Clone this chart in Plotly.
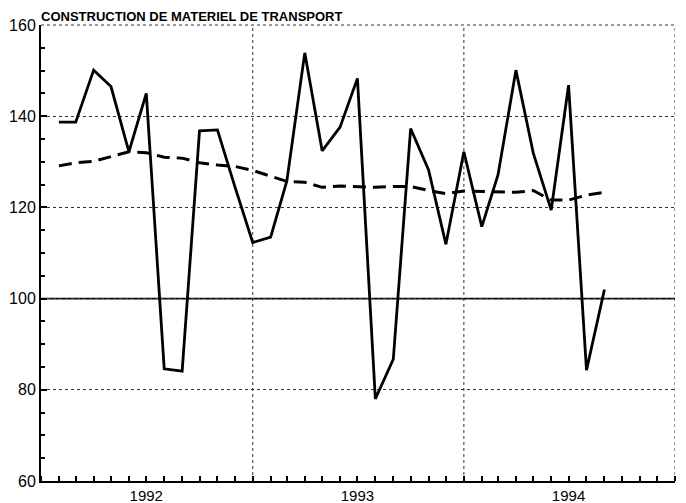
import pandas as pd
import plotly.graph_objects as go

# Monthly periods (Jan 1992 .. Aug 1994); each value is plotted at the end of its month
months = pd.period_range("1992-01", "1994-08", freq="M").astype(str).tolist()

production = [138.7, 138.7, 150.1, 146.5, 132.2, 145.0, 84.6, 84.1, 136.8, 137.0,
              124.6, 112.3, 113.5, 125.8, 153.9, 132.4, 137.6, 148.3, 78.0, 86.7,
              137.3, 128.2, 111.9, 132.2, 115.8, 127.1, 150.1, 131.9, 119.4, 146.8,
              84.3, 102.0]

trend = [129.1, 129.8, 130.1, 131.1, 132.2, 132.0, 131.0, 130.8, 129.8, 129.3,
         129.0, 128.1, 126.8, 125.7, 125.5, 124.4, 124.7, 124.6, 124.4, 124.6,
         124.6, 123.7, 123.0, 123.6, 123.5, 123.5, 123.3, 123.7, 121.6, 121.6,
         122.7, 123.3]

year_labels = ["1992", "1993", "1994"]
year_label_pos = ["1992-07-01", "1993-07-01", "1994-07-01"]
year_bounds = ["1993-01-01", "1994-01-01", "1995-01-01"]
y_ticks = [60, 80, 100, 120, 140, 160]
title_text = "CONSTRUCTION DE MATERIEL DE TRANSPORT"

x_dates = (pd.PeriodIndex(months, freq="M").to_timestamp() + pd.offsets.MonthBegin(1))

fig = go.Figure()
fig.add_trace(go.Scatter(x=x_dates, y=trend, mode="lines",
                         line=dict(color="black", width=3, dash="13px,7px"),
                         showlegend=False, hoverinfo="skip"))
fig.add_trace(go.Scatter(x=x_dates, y=production, mode="lines",
                         line=dict(color="black", width=2.8),
                         showlegend=False, hoverinfo="skip"))

font_main = "Liberation Sans, Arial, sans-serif"

# page body has an 8px default margin, so the figure is sized to fit the window
fig.update_layout(
    width=678, height=495,
    margin=dict(l=33, r=11, t=17, b=22, autoexpand=False),
    plot_bgcolor="white", paper_bgcolor="white",
    font=dict(family=font_main, color="black", size=15),
    title=dict(text="<b>" + title_text + "</b>", xref="paper", x=0, xanchor="left",
               yref="container", y=0.993, yanchor="top",
               pad=dict(l=0, r=0, t=0, b=0),
               font=dict(size=13, family=font_main, color="black")),
    xaxis=dict(
        type="date", automargin=False,
        range=["1992-01-01", "1995-01-01"],
        tickvals=year_label_pos, ticktext=year_labels,
        ticks="", showgrid=False,
        showline=True, linecolor="black", linewidth=2,
        tickfont=dict(size=15),
        minor=dict(dtick="M1", tick0="1992-01-01", ticks="inside", ticklen=5,
                   tickcolor="black", tickwidth=1.5, showgrid=False),
        zeroline=False,
    ),
    yaxis=dict(
        range=[60, 160], automargin=False,
        tickvals=y_ticks,
        ticks="inside", ticklen=6, tickcolor="black", tickwidth=1.5,
        showgrid=True, gridcolor="#333333", gridwidth=1, griddash="dot",
        showline=True, linecolor="black", linewidth=2,
        tickfont=dict(size=16),
        minor=dict(dtick=5, ticks="inside", ticklen=4, tickcolor="black",
                   tickwidth=1.5, showgrid=False),
        zeroline=False,
    ),
)

for xb in year_bounds:
    fig.add_shape(type="line", xref="x", yref="paper", x0=xb, x1=xb, y0=0, y1=1,
                  line=dict(color="#333333", width=1, dash="dot"), layer="below")

fig.add_shape(type="line", xref="paper", yref="paper", x0=0, x1=1, y0=1, y1=1,
              line=dict(color="#333333", width=1, dash="dot"), layer="below")

fig.add_shape(type="line", xref="paper", yref="y", x0=0, x1=1, y0=100, y1=100,
              line=dict(color="black", width=1.8), layer="below")

fig.write_html("out.html")
